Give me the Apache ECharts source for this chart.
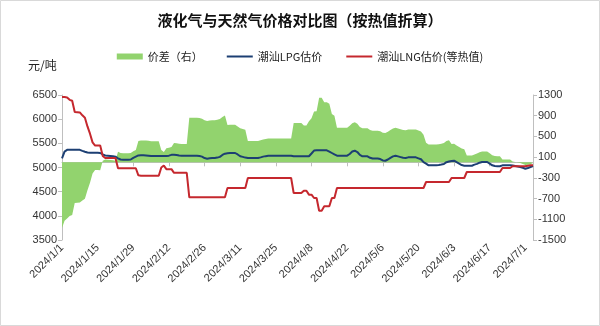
<!DOCTYPE html>
<html>
<head>
<meta charset="utf-8">
<script src="https://cdn.jsdelivr.net/npm/echarts@6/dist/echarts.min.js"></script>
<style>
  html, body { margin: 0; padding: 0; background: #fff; }
  #chart { width: 600px; height: 326px; }
</style>
</head>
<body>
<div id="chart"></div>
<script>
// Daily dates from 2024/1/1 to 2024/7/4
const firstDay = new Date(2024, 0, 1);
const dayCount = 186;
const dates = [];
for (let i = 0; i < dayCount; i++) {
  const d = new Date(firstDay.getFullYear(), firstDay.getMonth(), firstDay.getDate() + i);
  dates.push(d.getFullYear() + '/' + (d.getMonth() + 1) + '/' + d.getDate());
}

// 潮汕LPG估价 (元/吨)
const lpgPrice = [
  5190, 5330, 5365, 5365, 5365, 5365, 5365, 5365, 5345, 5327, 5310, 5305, 5305, 5305,
  5305, 5300, 5270, 5250, 5245, 5240, 5235, 5225, 5190, 5165, 5162, 5162, 5162, 5165,
  5200, 5225, 5250, 5252, 5252, 5250, 5245, 5238, 5238, 5238, 5238, 5238, 5238, 5238,
  5245, 5262, 5265, 5260, 5250, 5245, 5245, 5245, 5245, 5245, 5245, 5245, 5238, 5225,
  5195, 5182, 5190, 5196, 5196, 5205, 5220, 5260, 5286, 5295, 5300, 5300, 5300, 5270,
  5232, 5220, 5205, 5196, 5196, 5196, 5196, 5196, 5210, 5225, 5235, 5244, 5244, 5244,
  5244, 5244, 5244, 5244, 5244, 5244, 5244, 5232, 5232, 5232, 5232, 5232, 5232, 5232,
  5290, 5350, 5355, 5355, 5355, 5355, 5355, 5330, 5300, 5270, 5245, 5245, 5245, 5245,
  5245, 5280, 5330, 5348, 5320, 5260, 5232, 5232, 5232, 5200, 5185, 5185, 5185, 5175,
  5145, 5140, 5165, 5200, 5230, 5244, 5230, 5215, 5200, 5196, 5210, 5210, 5210, 5210,
  5190, 5170, 5110, 5080, 5045, 5045, 5045, 5045, 5050, 5060, 5072, 5110, 5125, 5135,
  5140, 5110, 5080, 5050, 5037, 5037, 5037, 5037, 5060, 5075, 5100, 5114, 5114, 5114,
  5080, 5045, 5030, 5025, 5025, 5045, 5045, 5045, 5045, 5040, 5030, 5020, 5010, 4995,
  4975, 4990, 5010, 5030
];

// 潮汕LNG估价(等热值) (元/吨)
const lngPrice = [
  6460, 6458, 6450, 6400, 6380, 6150, 6145, 6140, 6080, 6030, 5850, 5700, 5520, 5455,
  5455, 5455, 5240, 5195, 5195, 5195, 5195, 5195, 4985, 4985, 4985, 4985, 4985, 4985,
  4985, 4985, 4838, 4830, 4830, 4830, 4830, 4830, 4830, 4830, 4830, 5000, 5040, 4965,
  4965, 4965, 4890, 4890, 4890, 4890, 4890, 4890, 4383, 4383, 4383, 4383, 4383, 4383,
  4383, 4383, 4383, 4383, 4383, 4383, 4383, 4383, 4383, 4576, 4576, 4576, 4576, 4576,
  4576, 4576, 4576, 4783, 4783, 4783, 4783, 4783, 4783, 4783, 4783, 4783, 4783, 4783,
  4783, 4783, 4783, 4783, 4783, 4783, 4783, 4472, 4472, 4472, 4472, 4520, 4520, 4438,
  4438, 4369, 4369, 4106, 4106, 4197, 4197, 4197, 4369, 4369, 4576, 4576, 4576, 4576,
  4576, 4576, 4576, 4576, 4576, 4576, 4576, 4576, 4576, 4576, 4576, 4576, 4576, 4576,
  4576, 4576, 4576, 4576, 4576, 4576, 4576, 4576, 4576, 4576, 4576, 4576, 4576, 4576,
  4576, 4576, 4576, 4700, 4700, 4700, 4700, 4700, 4700, 4700, 4700, 4700, 4700, 4783,
  4783, 4783, 4783, 4783, 4783, 4907, 4907, 4907, 4907, 4907, 4907, 4907, 4907, 4907,
  4907, 4907, 4907, 4907, 4907, 4990, 4990, 4990, 4990, 5025, 5025, 5025, 5025, 5025,
  5025, 5035, 5045, 5045
];

// 价差 = LPG - LNG (右轴)
const priceSpread = lpgPrice.map((v, i) => v - lngPrice[i]);

const leftTicks = { min: 3500, max: 6500, step: 500 };
const rightTicks = { min: -1500, max: 1300, step: 400 };

const names = ['价差（右）', '潮汕LPG估价', '潮汕LNG估价(等热值)'];
const colors = ['#92d36e', '#1c3f73', '#c5282e'];
const axisGray = '#bfbfbf';
const labelColor = '#333';
const lineIcon = 'path://M0,0H26V2H0Z';
const plainNumber = v => String(v);

const chart = echarts.init(document.getElementById('chart'), null, { renderer: 'canvas' });
chart.setOption({
  animation: false,
  backgroundColor: '#fff',
  textStyle: { fontFamily: '"Liberation Sans", "Noto Sans CJK SC", sans-serif' },
  title: {
    text: '液化气与天然气价格对比图（按热值折算）',
    left: 'center',
    top: 8,
    textStyle: {
      fontSize: 15,
      fontWeight: 'bold',
      color: '#111',
      fontFamily: '"Noto Sans CJK SC", sans-serif'
    }
  },
  legend: {
    top: 46,
    left: 'center',
    itemWidth: 26,
    itemHeight: 6,
    itemGap: 24,
    textStyle: { fontSize: 11, color: '#222', fontFamily: '"Noto Sans CJK SC", sans-serif' },
    data: [
      { name: names[0], icon: 'rect' },
      { name: names[1], icon: lineIcon },
      { name: names[2], icon: lineIcon }
    ]
  },
  graphic: [
    {
      type: 'text',
      left: 28,
      top: 59,
      style: { text: '元/吨', fontSize: 12, fill: '#222', fontFamily: '"Noto Sans CJK SC", sans-serif' }
    },
    {
      type: 'rect',
      silent: true,
      shape: { x: 0.5, y: 0.5, width: 599, height: 325 },
      style: { fill: 'none', stroke: '#d9d9d9', lineWidth: 1 }
    }
  ],
  grid: { left: 62, right: 67, top: 95, bottom: 86, containLabel: false },
  xAxis: {
    type: 'category',
    data: dates,
    boundaryGap: false,
    axisLine: { lineStyle: { color: axisGray } },
    axisTick: { show: true, interval: 13, length: 4, lineStyle: { color: axisGray } },
    axisLabel: {
      interval: 13,
      rotate: 45,
      fontSize: 11,
      color: labelColor,
      margin: 6
    },
    splitLine: { show: false }
  },
  yAxis: [
    {
      type: 'value',
      position: 'left',
      min: leftTicks.min,
      max: leftTicks.max,
      interval: leftTicks.step,
      axisLine: { show: true, lineStyle: { color: axisGray } },
      axisTick: { show: true, length: 4, lineStyle: { color: axisGray } },
      axisLabel: { fontSize: 11, color: labelColor, margin: 5, formatter: plainNumber },
      splitLine: { show: false }
    },
    {
      type: 'value',
      position: 'right',
      min: rightTicks.min,
      max: rightTicks.max,
      interval: rightTicks.step,
      axisLine: { show: true, lineStyle: { color: axisGray } },
      axisTick: { show: true, length: 4, lineStyle: { color: axisGray } },
      axisLabel: { fontSize: 11, color: labelColor, margin: 5, formatter: plainNumber },
      splitLine: { show: false }
    }
  ],
  series: [
    {
      name: names[0],
      type: 'line',
      yAxisIndex: 1,
      data: priceSpread,
      symbol: 'none',
      lineStyle: { width: 0, color: colors[0] },
      itemStyle: { color: colors[0] },
      areaStyle: { color: colors[0], opacity: 1 },
      z: 1
    },
    {
      name: names[1],
      type: 'line',
      yAxisIndex: 0,
      data: lpgPrice,
      symbol: 'none',
      lineStyle: { width: 2, color: colors[1] },
      itemStyle: { color: colors[1] },
      z: 3
    },
    {
      name: names[2],
      type: 'line',
      yAxisIndex: 0,
      data: lngPrice,
      symbol: 'none',
      lineStyle: { width: 2, color: colors[2] },
      itemStyle: { color: colors[2] },
      z: 3
    }
  ]
});
</script>
</body>
</html>
